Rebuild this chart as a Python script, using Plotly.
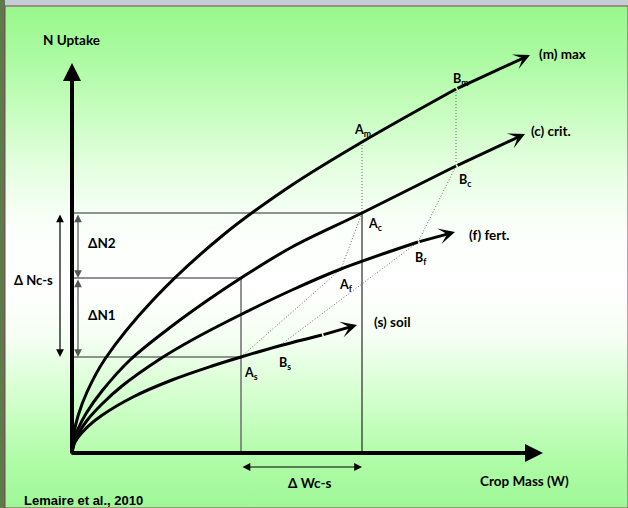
import plotly.graph_objects as go

# ---------------- data (crop mass W, N uptake) ----------------
max_W = [0, 2, 6, 15, 33, 81, 150, 220, 290, 384]
max_N = [0, 20, 37, 61, 94, 153, 217, 268, 311, 364]
max_tip = (458, 398)

crit_W = [0, 2, 6, 15, 30, 58, 100, 136, 169, 220, 290, 384]
crit_N = [0, 12.5, 24, 41, 62, 93, 127, 153, 175, 206, 240, 287]
crit_tip = (453, 319)

fert_W = [0, 2, 6, 15, 30, 50, 88, 120, 168, 220, 269, 346]
fert_N = [0, 9.7, 18.8, 32.5, 49, 67, 94, 113, 138, 163, 184, 211]
fert_tip = (383, 221)

soil_W = [0, 2, 6, 15, 30, 61, 100, 140, 169, 207, 250]
soil_N = [0, 8.5, 15.5, 25.7, 37.7, 56, 73, 87, 96, 107, 118]
soil_tip = (285, 128)

curve_labels = ["(m) max", "(c) crit.", "(f) fert.", "(s) soil"]

# key points
A_m = (290, 311); B_m = (384, 364)
A_c = (290, 240); B_c = (384, 287)
A_f = (269, 184); B_f = (346, 211)
A_s = (169, 96);  B_s = (207, 107)
N_c_at_Ws = 175   # critical N at soil crop mass

x_axis_tip = 471
y_axis_tip = 390

FONT = "Lato"
fig = go.Figure()

# background gradient panel
fig.add_trace(go.Scatter(
    x=[-67, 556, 556, -67, -67], y=[-55, -55, 447, 447, -55],
    mode="lines", line=dict(width=1, color="#8a3a58"), fill="toself",
    fillgradient=dict(type="vertical", start=-55, stop=447, colorscale=[
        [0.0, "#9ef896"], [0.096, "#b0fca8"], [0.215, "#d2ffcc"],
        [0.335, "#f4fff2"], [0.434, "#ffffff"], [0.554, "#fbfffb"],
        [0.673, "#e6ffe2"], [0.793, "#c6fdbe"], [0.912, "#a8fa9e"],
        [1.0, "#98f88c"]]),
    hoverinfo="skip", showlegend=False))

grey = "#6e6e6e"
dotc = "#666666"
DOT = "1px,2px"
def line(xs, ys, color="black", width=1, dash="solid"):
    fig.add_trace(go.Scatter(x=xs, y=ys, mode="lines",
                             line=dict(color=color, width=width, dash=dash),
                             hoverinfo="skip", showlegend=False))

# horizontal reference lines
line([0, A_c[0]], [A_c[1], A_c[1]], grey, 1.5)
line([0, A_s[0]], [N_c_at_Ws, N_c_at_Ws], grey, 1.5)
line([0, A_s[0]], [A_s[1], A_s[1]], grey, 1.5)
# vertical reference lines
line([A_s[0], A_s[0]], [0, N_c_at_Ws], grey, 1.5)
line([A_c[0], A_c[0]], [0, A_c[1]], "black", 1)
line([A_m[0], A_c[0]], [A_m[1], A_c[1]], dotc, 1, DOT)
line([B_m[0], B_c[0]], [B_m[1], B_c[1]], dotc, 1, DOT)
# dotted dilution paths
line([A_c[0], A_f[0], A_s[0]], [A_c[1], A_f[1], A_s[1]], dotc, 1, DOT)
line([B_c[0], B_f[0], B_s[0]], [B_c[1], B_f[1], B_s[1]], dotc, 1, DOT)

# curves
annotations = []
for W, N, tip in [(max_W, max_N, max_tip), (crit_W, crit_N, crit_tip),
                  (fert_W, fert_N, fert_tip), (soil_W, soil_N, soil_tip)]:
    fig.add_trace(go.Scatter(x=W, y=N, mode="lines",
                             line=dict(color="black", width=3, shape="spline",
                                       smoothing=1),
                             hoverinfo="skip", showlegend=False))
    annotations.append(dict(x=tip[0], y=tip[1], ax=W[-1], ay=N[-1],
                            xref="x", yref="y", axref="x", ayref="y",
                            showarrow=True, arrowhead=3, arrowsize=0.9,
                            arrowwidth=3, arrowcolor="black", text=""))

# main axes with arrow heads
annotations.append(dict(x=0, y=y_axis_tip, ax=0, ay=-2, xref="x", yref="y",
                        axref="x", ayref="y", showarrow=True, arrowhead=2,
                        arrowsize=0.9, arrowwidth=4, arrowcolor="black", text=""))
annotations.append(dict(x=x_axis_tip, y=0, ax=-2, ay=0, xref="x", yref="y",
                        axref="x", ayref="y", showarrow=True, arrowhead=2,
                        arrowsize=0.9, arrowwidth=4, arrowcolor="black", text=""))

# double arrows
def darrow(x0, y0, x1, y1, color):
    annotations.append(dict(x=x1, y=y1, ax=x0, ay=y0, xref="x", yref="y",
                            axref="x", ayref="y", showarrow=True,
                            arrowhead=2, startarrowhead=2, arrowside="end+start",
                            arrowsize=1.3, startarrowsize=1.3, arrowwidth=1.2,
                            arrowcolor=color, text=""))

darrow(6, A_c[1], 6, N_c_at_Ws, "#555555")
darrow(6, N_c_at_Ws, 6, A_s[1], "#555555")
darrow(-12, A_c[1], -12, A_s[1], "black")
darrow(A_s[0], -14, A_c[0], -14, "black")

# texts
def txt(x, y, s, anchor="left", size=13.5, family=FONT):
    annotations.append(dict(x=x, y=y, xref="x", yref="y", text=s,
                            showarrow=False, xanchor=anchor, yanchor="middle",
                            font=dict(family=family, size=size, color="black")))

txt(-31, 413, "<b>N Uptake</b>")
txt(465, 399, "<b>" + curve_labels[0] + "</b>")
txt(457, 322, "<b>" + curve_labels[1] + "</b>")
txt(395, 218, "<b>" + curve_labels[2] + "</b>")
txt(300, 131, "<b>" + curve_labels[3] + "</b>")

pt_labels = [("A", "m", 290, 323), ("B", "m", 389, 374), ("B", "c", 393, 273),
             ("A", "c", 303, 229), ("A", "f", 274, 168), ("B", "f", 349, 195),
             ("A", "s", 179, 80), ("B", "s", 213, 90)]
for L, s, x, y in pt_labels:
    txt(x, y, "<b>%s<sub>%s</sub></b>" % (L, s), anchor="center", size=12.5)

txt(14, 210, "<b>ΔN2</b>")
txt(14, 138, "<b>ΔN1</b>")
txt(-17, 173, "<b>Δ Nc-s</b>", anchor="right", size=13)
txt(238, -30, "<b>Δ Wc-s</b>", anchor="center")
txt(406, -28, "<b>Crop Mass (W)</b>")
txt(-50, -47, "<b>Lemaire et al., 2010</b>", size=13, family="Liberation Sans")

fig.update_layout(
    width=628, height=508, margin=dict(l=0, r=0, t=0, b=0),
    paper_bgcolor="#c4ccd4", plot_bgcolor="rgba(0,0,0,0)",
    xaxis=dict(range=[-72, 556], visible=False, fixedrange=True),
    yaxis=dict(range=[-55, 453], visible=False, fixedrange=True),
    annotations=annotations,
    shapes=[dict(type="rect", xref="paper", yref="paper", x0=0, x1=5/628,
                 y0=0, y1=1, fillcolor="#5d7a4a", line=dict(width=0), layer="below")],
)
fig.write_html("out.html", config={"displayModeBar": False},
               post_script="document.body.style.margin='0';"
                           "document.body.style.overflow='hidden';")
